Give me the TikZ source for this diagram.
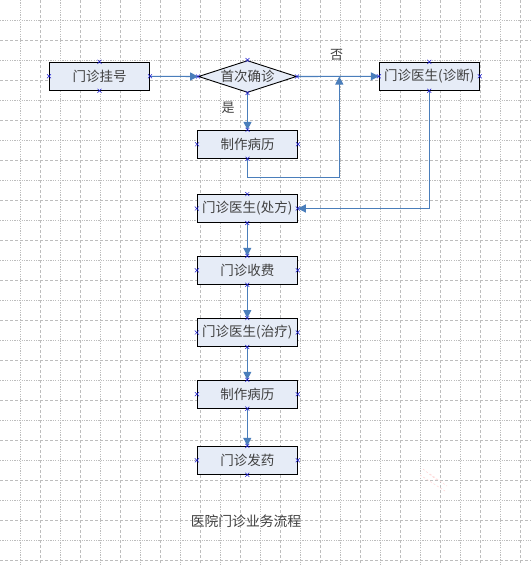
\documentclass[tikz,border=0pt]{standalone}
\usepackage{fontspec}
\newfontfamily\cjk{Noto Sans CJK SC}
\usetikzlibrary{arrows.meta,shapes.geometric}
\definecolor{boxfill}{HTML}{E6ECF7}
\definecolor{arrowblue}{HTML}{4A7EBB}
\definecolor{gridgray}{HTML}{BDBDBD}
\definecolor{txt}{HTML}{404040}
\definecolor{mkblue}{HTML}{1A1AD0}
\newcommand\mymarks[1]{\foreach \a in {north,south,east,west}{\draw[mkline] (#1.\a) +(-2,-2) -- +(2,2) +(-2,2) -- +(2,-2);}}
\begin{document}
\begin{tikzpicture}[x=1pt,y=-1pt,
  stepbox/.style={draw=black,line width=0.9pt,fill=boxfill,minimum width=100pt,minimum height=28pt,inner sep=0pt,font=\cjk\fontsize{13.5}{14}\selectfont,text=txt},
  decbox/.style={diamond,draw=black,line width=0.9pt,fill=boxfill,minimum width=98pt,minimum height=32pt,inner sep=0pt,aspect=3,font=\cjk\fontsize{13.5}{14}\selectfont,text=txt},
  arr/.style={draw=arrowblue,line width=1.1pt,-{Triangle[length=8pt,width=8pt]}},
  lbl/.style={font=\cjk\fontsize{13}{14}\selectfont,text=txt,inner sep=0pt},
  mkline/.style={draw=mkblue,line width=0.5pt},
  minorgrid/.style={draw=gridgray,line width=0.7pt,dash pattern=on 1.2pt off 1.2pt},
  majorgrid/.style={draw=gridgray,line width=0.8pt,dash pattern=on 3pt off 2pt}]
\fill[white] (0,0) rectangle (531,565);
\useasboundingbox (0,0) rectangle (531,565);
% grid
\foreach \x in {20,60,...,520} \draw[minorgrid] (\x,0) -- (\x,565);
\foreach \x in {40,80,...,520} \draw[majorgrid] (\x,0) -- (\x,565);
\foreach \y in {20,60,...,560} \draw[minorgrid] (0,\y) -- (531,\y);
\foreach \y in {40,80,...,560} \draw[majorgrid] (0,\y) -- (531,\y);
% nodes
\node[stepbox] (reg) at (99.5,76.3) {门诊挂号};
\node[decbox] (dec) at (247.5,76.5) {首次确诊};
\node[stepbox] (rec1) at (247.5,144.3) {制作病历};
\node[stepbox] (diag) at (429.3,76.3) {门诊医生(诊断)};
\node[stepbox] (presc) at (247.3,208.5) {门诊医生(处方)};
\node[stepbox] (fee) at (247.3,270.3) {门诊收费};
\node[stepbox] (treat) at (247.3,332.5) {门诊医生(治疗)};
\node[stepbox] (rec2) at (247.3,394.2) {制作病历};
\node[stepbox] (drug) at (247.3,460.3) {门诊发药};
\node[lbl] (yes) at (228,108) {是};
\node[lbl] (no) at (336.7,55) {否};
\node[lbl,font=\cjk\fontsize{13.8}{14}\selectfont] (title) at (246,521) {医院门诊业务流程};
\coordinate (j) at (339.3,76.5);
% connectors
\draw[arr] (reg.east) -- (dec.west);
\draw[arr] (dec.east) -- (diag.west);
\draw[arr] (dec.south) -- (rec1.north);
\draw[arr] (rec1.south) -- ++(0,19) -| (j);
\draw[arr] (diag.south) |- (presc.east);
\draw[arr] (presc.south) -- (fee.north);
\draw[arr] (fee.south) -- (treat.north);
\draw[arr] (treat.south) -- (rec2.north);
\draw[arr] (rec2.south) -- (drug.north);
% connection markers
\foreach \n in {reg,dec,rec1,diag,presc,fee,treat,rec2,drug} {\mymarks{\n}}
% faint handle marks
\draw[pink!60,line width=0.6pt,dash pattern=on 2pt off 2pt] (423,469) -- (438,481);
\draw[pink!60,line width=0.6pt,dash pattern=on 2pt off 2pt] (420,475) -- (445,491);
\draw[pink!60,line width=0.6pt,dash pattern=on 2pt off 2pt] (430,474) -- (447,486);
\end{tikzpicture}
\end{document}
